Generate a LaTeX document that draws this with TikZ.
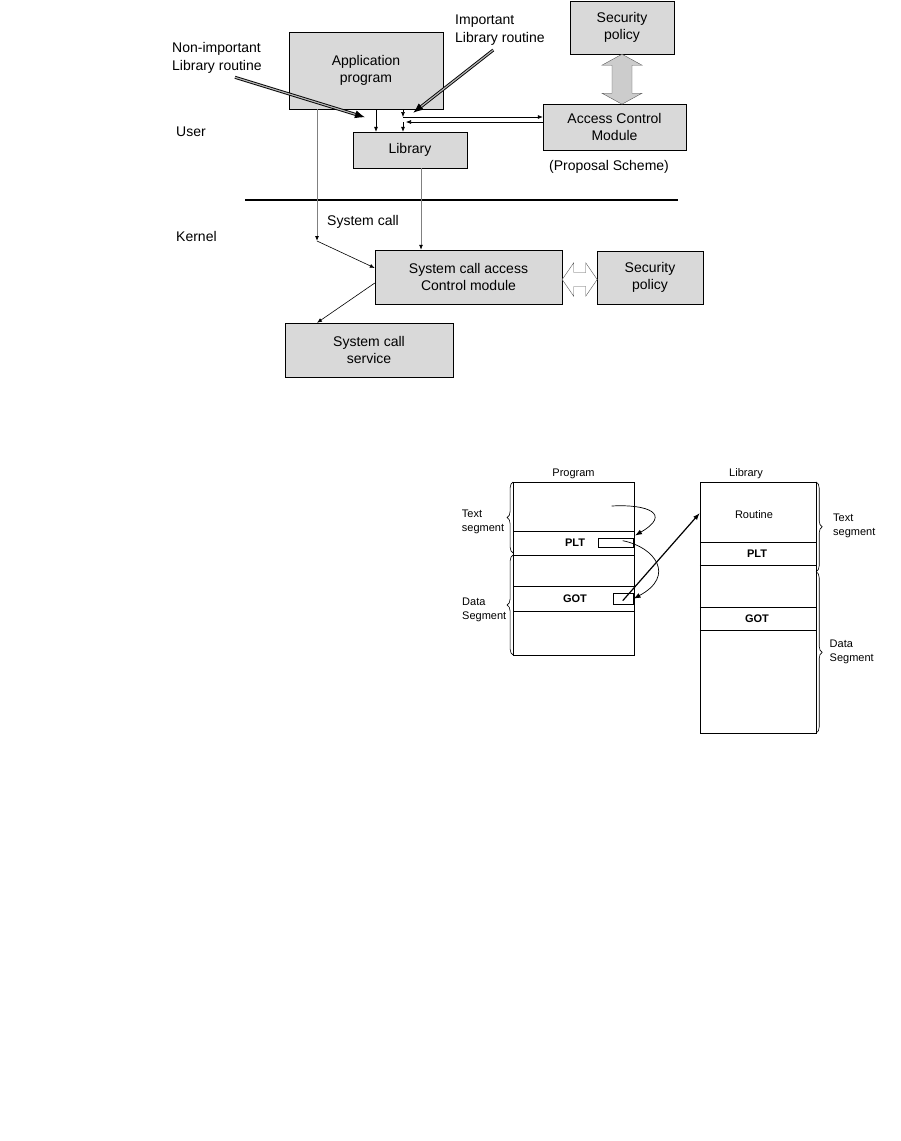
\documentclass[tikz,border=0pt]{standalone}
\usepackage{fontspec}
\setmainfont{Liberation Sans}
\usetikzlibrary{arrows.meta,decorations.pathreplacing}

\tikzset{
  box/.style={draw, fill=black!15, align=center, inner sep=0pt, font=\fontsize{14}{17.5}\selectfont},
  lbl/.style={align=left, inner sep=0pt, font=\fontsize{14}{17.5}\selectfont},
  small/.style={align=left, inner sep=0pt, font=\fontsize{11}{14}\selectfont},
  arr/.style={-{Latex[length=5pt,width=4pt]}, line width=0.6pt},
  garr/.style={-{Latex[length=5pt,width=4pt,black]}, draw=gray, line width=0.8pt},
  fat/.style={-{Latex[length=10pt,width=8pt]}, draw=black, double=gray!60, double distance=1.2pt, line width=0.9pt},
  larr/.style={-{Latex[length=7pt,width=5pt]}, line width=0.7pt},
  brc/.style={decorate, decoration={brace, amplitude=6pt}, line width=0.6pt}
}

\begin{document}
\begin{tikzpicture}[x=1pt,y=-1pt]
\useasboundingbox (0,0) rectangle (901,1141);
\fill[white] (0,0) rectangle (901,1141);
% user side
\node[box, minimum width=154pt, minimum height=77pt] (app) at (366,70.5) {Application\\program};
\node[box, minimum width=114pt, minimum height=36pt] (lib) at (410,150) {Library};
\node[box, minimum width=104pt, minimum height=53pt] (pol) at (622,27.5) {Security\\policy};
\node[box, minimum width=143pt, minimum height=46pt] (acm) at (614.5,127) {Access Control\\Module};
\node[lbl, anchor=center] (prop) at (609,166.7) {(Proposal Scheme)};
\node[lbl, anchor=west] (nonimp) at (172,58) {Non-important\\Library routine};
\node[lbl, anchor=west] (imp) at (455,30) {Important\\Library routine};
\node[lbl, anchor=west] (user) at (176,132) {User};
\draw[line width=2pt] (245,200) -- (678,200);
% kernel side
\node[lbl, anchor=west] (kern) at (176,236) {Kernel};
\node[lbl, anchor=west] (sc) at (327,221.7) {System call};
\node[box, minimum width=187pt, minimum height=54pt] (scacm) at (468.5,277) {System call access\\Control module};
\node[box, minimum width=106pt, minimum height=53pt] (pol2) at (650,277.5) {Security\\policy};
\node[box, minimum width=168pt, minimum height=54pt] (srv) at (369,350) {System call\\service};

\coordinate (a1) at (403,117);
\coordinate (a2) at (403,122);
\draw[arr] (376,0 |- app.south) -- (376,0 |- lib.north);
\draw[arr] (403,0 |- app.south) -- (a1);
\draw[arr] (a1) -- (acm.west |- a1);
\draw[arr] (acm.west |- a2) -- (406,122);
\draw[arr] (a2) -- (403,0 |- lib.north);

\coordinate (n1) at (235,77.3);
\coordinate (n2) at (365,117.3);
\coordinate (i1) at (493.3,50);
\coordinate (i2) at (413.3,112.7);
\draw[fat] (n1) -- (n2);
\draw[fat] (i1) -- (i2);

\draw[draw=gray!70!black, fill=black!20] (pol.south) -- ++(20,11) -- ++(-10,0) -- ++(0,28) -- ++(10,0) -- ++(-20,11) -- ++(-20,-11) -- ++(10,0) -- ++(0,-28) -- ++(-10,0) -- cycle;

\coordinate (bend) at (317,241);
\draw[garr] (317,0 |- app.south) -- (bend);
\draw[arr] (bend) -- (scacm.west |- 0,268);
\draw[garr] (421,0 |- lib.south) -- (421,0 |- scacm.north);
\draw[arr] (scacm.west |- 0,283) -- (317,0 |- srv.north);

\draw[draw=gray!70!black, fill=white] (scacm.east |- 0,279.5) -- ++(11.5,-16.7) -- ++(0,9.7) -- ++(12,0) -- ++(0,-9.7) -- ++(11.5,16.7) -- ++(-11.5,16.7) -- ++(0,-9.7) -- ++(-12,0) -- ++(0,9.7) -- cycle;

% program / library layout
\node[small, anchor=center] (progl) at (573.5,474) {Program};
\node[draw, minimum width=120.7pt, minimum height=173.3pt, inner sep=0pt] (prog) at (573.65,568.35) {};
\foreach \y in {530.7,555,586,610.7}
  \draw (prog.west |- 0,\y) -- (prog.east |- 0,\y);
\node[small, font=\fontsize{11}{14}\selectfont\bfseries, anchor=center] (pplt) at (575,542.7) {PLT};
\node[small, font=\fontsize{11}{14}\selectfont\bfseries, anchor=center] (pgot) at (575,598.3) {GOT};
\node[draw, fill=white, minimum width=35pt, minimum height=9pt, inner sep=0pt] (pltbox) at (615.8,542.8) {};
\node[draw, fill=white, minimum width=20.6pt, minimum height=10.7pt, inner sep=0pt] (gotbox) at (623,598.7) {};
\draw[brc] (prog.west |- 0,553) -- (prog.west |- 0,482);
\draw[brc] (prog.west |- 0,655) -- (prog.west |- 0,555);
\node[small, anchor=west] (ptext) at (461.7,521.7) {Text\\segment};
\node[small, anchor=west] (pdata) at (462,610) {Data\\Segment};

\node[small, anchor=center] (libl) at (746,474) {Library};
\node[draw, minimum width=116pt, minimum height=251.6pt, inner sep=0pt] (libr) at (758,607.5) {};
\foreach \y in {541.7,565,606.7,630}
  \draw (libr.west |- 0,\y) -- (libr.east |- 0,\y);
\node[small, anchor=center] (rout) at (754,515) {Routine};
\node[small, font=\fontsize{11}{14}\selectfont\bfseries, anchor=center] (lplt) at (757,553.5) {PLT};
\node[small, font=\fontsize{11}{14}\selectfont\bfseries, anchor=center] (lgot) at (757,618.3) {GOT};
\draw[brc] (libr.east |- 0,482) -- (libr.east |- 0,571.7);
\draw[brc] (libr.east |- 0,571.7) -- (libr.east |- 0,733);
\node[small, anchor=west] (ltext) at (833,525.8) {Text\\segment};
\node[small, anchor=west] (ldata) at (829.5,652) {Data\\Segment};

\coordinate (c1) at (611.7,506);
\coordinate (c1e) at (635,535.5);
\coordinate (c2) at (622.7,540.7);
\coordinate (c3) at (622.7,600.7);
\draw[larr] (c1) .. controls (648,504) and (672,514) .. (c1e);
\draw[larr] (c2) .. controls (655,547) and (676,576) .. (gotbox.east);
\draw[larr, line width=1.2pt] (c3) -- (libr.west |- 0,513);
\end{tikzpicture}
\end{document}
